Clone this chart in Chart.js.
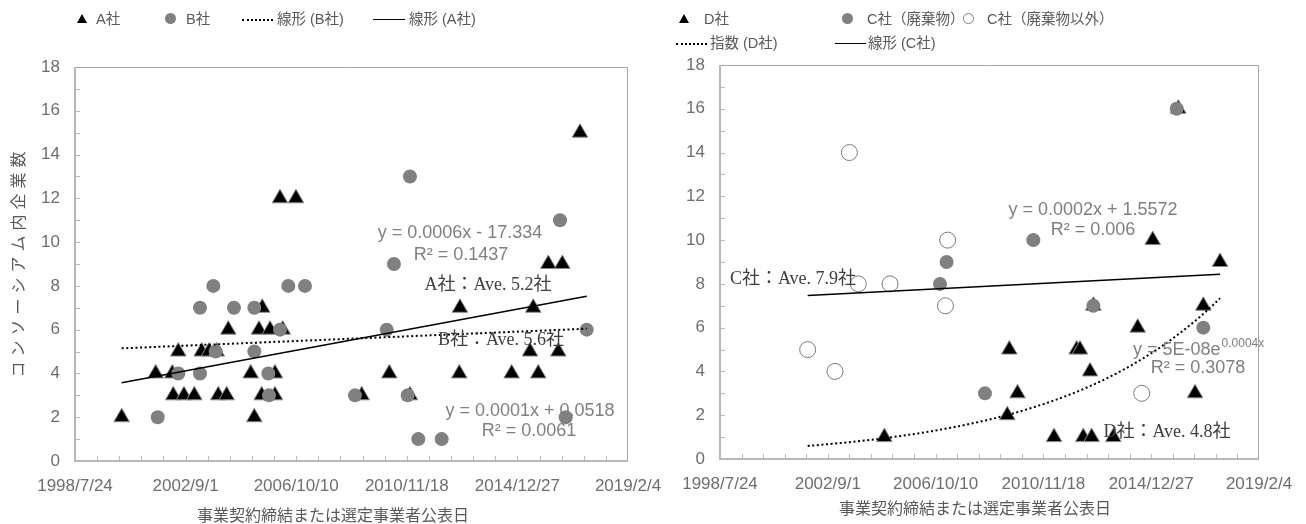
<!DOCTYPE html>
<html>
<head>
<meta charset="utf-8">
<script src="https://cdn.jsdelivr.net/npm/chart.js@4.4.0/dist/chart.umd.min.js"></script>
<style>
  body { margin: 0; width: 1306px; height: 524px; background: #fff; position: relative; overflow: hidden;
         font-family: "Liberation Sans", "Noto Sans CJK JP", sans-serif; }
  canvas { position: absolute; top: 0; }
  .lg { position: absolute; font-size: 14.5px; color: #595959; white-space: nowrap; line-height: 18px; }
  .tri { position: absolute; width: 0; height: 0; border-left: 5px solid transparent; border-right: 5px solid transparent; border-bottom: 9px solid #000; }
  .dot { position: absolute; width: 11px; height: 11px; border-radius: 50%; background: #808080; }
  .ring { position: absolute; width: 9px; height: 9px; border-radius: 50%; border: 1px solid #808080; background: #fff; }
  .ln { position: absolute; height: 0; border-top: 1.5px solid #000; }
  .dl { position: absolute; height: 0; border-top: 2px dotted #000; }
</style>
</head>
<body>
<canvas id="chartA" width="670" height="524" style="left:0"></canvas>
<canvas id="chartC" width="636" height="524" style="left:670px"></canvas>

<!-- 凡例 左 -->
<div class="tri" style="left:77px;top:14px"></div><div class="lg" style="left:96px;top:10px">A社</div>
<div class="dot" style="left:165px;top:13px"></div><div class="lg" style="left:186px;top:10px">B社</div>
<div class="dl" style="left:242px;top:19px;width:31px"></div><div class="lg" style="left:277px;top:10px">線形 (B社)</div>
<div class="ln" style="left:373px;top:19px;width:32px"></div><div class="lg" style="left:409px;top:10px">線形 (A社)</div>
<!-- 凡例 右 -->
<div class="tri" style="left:679px;top:14px"></div><div class="lg" style="left:704px;top:10px">D社</div>
<div class="dot" style="left:842px;top:13px"></div><div class="lg" style="left:867px;top:10px">C社（廃棄物）</div>
<div class="ring" style="left:963px;top:13px"></div><div class="lg" style="left:987px;top:10px">C社（廃棄物以外）</div>
<div class="dl" style="left:676px;top:43px;width:31px"></div><div class="lg" style="left:710px;top:34px">指数 (D社)</div>
<div class="ln" style="left:835px;top:43px;width:31px"></div><div class="lg" style="left:868px;top:34px">線形 (C社)</div>

<script>
// 日付はExcelのシリアル値（1900年基準）
const xTickVals = [36000, 37500, 39000, 40500, 42000, 43500];

// 左グラフ A社 / B社
const aDates = [36633, 37094, 37320, 37333, 37401, 37478, 37618, 37718, 37817, 37922, 37943, 38057, 38079, 38383, 38432, 38495, 38540, 38532, 38645, 38712, 38712, 38817, 38780, 38997, 39888, 40263, 40543, 41212, 41221, 41922, 42171, 42215, 42283, 42419, 42555, 42609, 42849];
const aCount = [2, 4, 4, 3, 5, 3, 3, 5, 5, 5, 3, 3, 6, 4, 2, 6, 7, 3, 6, 4, 3, 6, 12, 12, 3, 4, 3, 4, 7, 4, 5, 7, 4, 9, 5, 9, 15];
const bDates = [37122, 37401, 37695, 37695, 37876, 37908, 38156, 38432, 38432, 38622, 38631, 38780, 38893, 39119, 39797, 40227, 40326, 40512, 40543, 40656, 40973, 42578, 42655, 42940];
const bCount = [2, 4, 7, 4, 8, 5, 7, 7, 5, 4, 3, 6, 8, 8, 3, 6, 9, 3, 13, 1, 1, 11, 2, 6];

// 右グラフ D社 / C社
const dDates = [38287, 39998, 40026, 40140, 40648, 40963, 41009, 41055, 41149, 41172, 41195, 41473, 41812, 42021, 42377, 42610, 42725, 42958];
const dCount = [1, 2, 5, 3, 1, 5, 5, 1, 4, 1, 7, 1, 6, 10, 16, 3, 7, 9];
const cWasteDates = [39061, 39153, 39687, 40360, 41195, 42355, 42725];
const cWasteCount = [8, 9, 3, 10, 7, 16, 6];
const cOtherDates = [37220, 37600, 37800, 37924, 38366, 39137, 39168, 41868];
const cOtherCount = [5, 4, 14, 8, 8, 7, 10, 3];

Chart.defaults.font.family = '"Liberation Sans", "Noto Sans CJK JP", sans-serif';
Chart.defaults.animation = false;

function serialToLabel(s) {
  const d = new Date(Date.UTC(1899, 11, 30) + s * 86400000);
  return d.getUTCFullYear() + '/' + (d.getUTCMonth() + 1) + '/' + d.getUTCDate();
}
const pts = (xs, ys) => xs.map((x, i) => ({ x: x, y: ys[i] }));

function linFit(xs, ys) {
  const n = xs.length;
  const mx = xs.reduce((s, v) => s + v, 0) / n;
  const my = ys.reduce((s, v) => s + v, 0) / n;
  let sxy = 0, sxx = 0;
  xs.forEach((x, i) => { sxy += (x - mx) * (ys[i] - my); sxx += (x - mx) * (x - mx); });
  const b = sxy / sxx;
  return { a: my - b * mx, b: b };
}

function linTrend(xs, ys, x0, x1) {
  const f = linFit(xs, ys);
  return [{ x: x0, y: f.a + f.b * x0 }, { x: x1, y: f.a + f.b * x1 }];
}

function expTrend(xs, ys, x0, x1) {
  const f = linFit(xs, ys.map(v => Math.log(v)));
  const out = [];
  for (let i = 0; i <= 60; i++) {
    const x = x0 + (x1 - x0) * i / 60;
    out.push({ x: x, y: Math.exp(f.a + f.b * x) });
  }
  return out;
}

// 枠と内向きの目盛り
const framePlugin = {
  id: 'frame',
  beforeDatasetsDraw(chart) {
    const { ctx, chartArea: a, scales: { x, y } } = chart;
    ctx.save();
    ctx.strokeStyle = '#a6a6a6';
    ctx.lineWidth = 1;
    ctx.beginPath();
    ctx.moveTo(a.left, a.top + 0.5);
    ctx.lineTo(a.right - 0.5, a.top + 0.5);
    ctx.lineTo(a.right - 0.5, a.bottom);
    ctx.stroke();
    ctx.strokeStyle = '#b8b8b8';
    ctx.lineWidth = 2;
    ctx.beginPath();
    ctx.moveTo(a.left, a.top);
    ctx.lineTo(a.left, a.bottom);
    ctx.lineTo(a.right, a.bottom);
    ctx.stroke();
    ctx.lineWidth = 1;
    ctx.beginPath();
    for (let v = 1; v < 18; v++) {
      const py = Math.round(y.getPixelForValue(v)) + 0.5;
      ctx.moveTo(a.left, py); ctx.lineTo(a.left + 5, py);
    }
    for (let d = 36300; d < 43500; d += 300) {
      const px = Math.round(x.getPixelForValue(d)) + 0.5;
      ctx.moveTo(px, a.bottom); ctx.lineTo(px, a.bottom - 5);
    }
    ctx.stroke();
    ctx.restore();
  }
};

// 近似式・平均のテキストと軸タイトル
function notesPlugin(items) {
  return {
    id: 'notes',
    afterDatasetsDraw(chart) {
      const ctx = chart.ctx;
      items.forEach(it => {
        ctx.save();
        ctx.font = it.font;
        ctx.fillStyle = it.color;
        ctx.textBaseline = 'middle';
        ctx.textAlign = it.align || 'center';
        if (it.spacing) ctx.letterSpacing = it.spacing;
        ctx.translate(it.x, it.y);
        if (it.rot) ctx.rotate(it.rot);
        ctx.fillText(it.text, 0, 0);
        if (it.sup) {
          const w = ctx.measureText(it.text).width;
          ctx.font = it.supFont;
          ctx.textAlign = 'left';
          ctx.fillText(it.sup, w + 1, -6);
        }
        ctx.restore();
      });
    }
  };
}

const grayFont = '18px "Liberation Sans", "Noto Sans CJK JP", sans-serif';
const serifFont = '18px "Liberation Serif", "Noto Sans CJK JP", serif';
const titleFont = '16px "Noto Sans CJK JP", sans-serif';
const tickColor = '#6e6e6e';

function makeOptions(yWidth, padRight, xHeight, padTop) {
  return {
    responsive: false,
    layout: { padding: { top: padTop, right: padRight, left: 0, bottom: 0 } },
    plugins: { legend: { display: false }, tooltip: { enabled: false } },
    scales: {
      x: {
        type: 'linear', min: 36000, max: 43500,
        grid: { display: false, drawTicks: false }, border: { display: false },
        afterBuildTicks: s => { s.ticks = xTickVals.map(v => ({ value: v })); },
        ticks: { autoSkip: false, maxRotation: 0, padding: 15, color: tickColor, font: { size: 17 },
                 callback: v => serialToLabel(v) },
        afterFit: s => { s.height = xHeight; s.paddingLeft = 0; s.paddingRight = 0; }
      },
      y: {
        min: 0, max: 18,
        grid: { display: false, drawTicks: false }, border: { display: false },
        ticks: { stepSize: 2, padding: 15, color: tickColor, font: { size: 17 } },
        afterFit: s => { s.width = yWidth; s.paddingTop = 0; s.paddingBottom = 0; }
      }
    }
  };
}

const triStyle = { pointStyle: 'triangle', pointRadius: 9, backgroundColor: '#000', borderColor: '#8c8c8c', borderWidth: 1, showLine: false };

// 左グラフ
const leftMin = Math.min(...aDates, ...bDates), leftMax = Math.max(...aDates, ...bDates);
new Chart(document.getElementById('chartA'), {
  type: 'scatter',
  data: {
    datasets: [
      { label: '線形 (A社)', data: linTrend(aDates, aCount, leftMin, leftMax), showLine: true, pointRadius: 0,
        borderColor: '#000', borderWidth: 1.5, order: 0 },
      { label: '線形 (B社)', data: linTrend(bDates, bCount, leftMin, leftMax), showLine: true, pointRadius: 0,
        borderColor: '#000', borderWidth: 2, borderDash: [2, 2.6], order: 0 },
      { label: 'B社', data: pts(bDates, bCount), pointStyle: 'circle', pointRadius: 7,
        backgroundColor: '#808080', borderColor: '#808080', borderWidth: 0, order: 1 },
      Object.assign({ label: 'A社', data: pts(aDates, aCount), order: 2 }, triStyle)
    ]
  },
  options: makeOptions(75, 42, 63, 67),
  plugins: [framePlugin, notesPlugin([
    { text: 'y = 0.0006x - 17.334', x: 460, y: 233, font: grayFont, color: '#808080' },
    { text: 'R² = 0.1437', x: 461, y: 255, font: grayFont, color: '#808080' },
    { text: 'A社：Ave. 5.2社', x: 488, y: 285, font: serifFont, color: '#404040' },
    { text: 'B社：Ave. 5.6社', x: 501, y: 340, font: serifFont, color: '#404040' },
    { text: 'y = 0.0001x + 0.0518', x: 530, y: 411, font: grayFont, color: '#808080' },
    { text: 'R² = 0.0061', x: 529, y: 431, font: grayFont, color: '#808080' },
    { text: '事業契約締結または選定事業者公表日', x: 333, y: 515, font: titleFont, color: '#595959' },
    { text: 'コンソーシアム内企業数', x: 18, y: 262, font: titleFont, color: '#595959', rot: -Math.PI / 2, spacing: '5px' }
  ])]
});

// 右グラフ
const cDates = cWasteDates.concat(cOtherDates);
const cCount = cWasteCount.concat(cOtherCount);
const rightMin = Math.min(...dDates, ...cDates), rightMax = Math.max(...dDates, ...cDates);
new Chart(document.getElementById('chartC'), {
  type: 'scatter',
  data: {
    datasets: [
      { label: '線形 (C社)', data: linTrend(cDates, cCount, rightMin, rightMax), showLine: true, pointRadius: 0,
        borderColor: '#000', borderWidth: 1.5, order: 0 },
      { label: '指数 (D社)', data: expTrend(dDates, dCount, rightMin, rightMax), showLine: true, pointRadius: 0,
        borderColor: '#000', borderWidth: 2, borderDash: [2, 2.6], order: 0 },
      { label: 'C社（廃棄物以外）', data: pts(cOtherDates, cOtherCount), pointStyle: 'circle', pointRadius: 8,
        backgroundColor: '#fff', borderColor: '#7a7a7a', borderWidth: 1, order: 1 },
      { label: 'C社（廃棄物）', data: pts(cWasteDates, cWasteCount), pointStyle: 'circle', pointRadius: 7,
        backgroundColor: '#808080', borderColor: '#808080', borderWidth: 0, order: 2 },
      Object.assign({ label: 'D社', data: pts(dDates, dCount), order: 3 }, triStyle)
    ]
  },
  options: makeOptions(50, 47, 65, 65),
  plugins: [framePlugin, notesPlugin([
    { text: 'y = 0.0002x + 1.5572', x: 423, y: 210, font: grayFont, color: '#808080' },
    { text: 'R² = 0.006', x: 423, y: 230, font: grayFont, color: '#808080' },
    { text: 'C社：Ave. 7.9社', x: 123, y: 279, font: serifFont, color: '#404040' },
    { text: 'y = 5E-08e', x: 463, y: 350, font: grayFont, color: '#808080', align: 'left',
      sup: '0.0004x', supFont: '12px "Liberation Sans", sans-serif' },
    { text: 'R² = 0.3078', x: 528, y: 368, font: grayFont, color: '#808080' },
    { text: 'D社：Ave. 4.8社', x: 497, y: 432, font: serifFont, color: '#404040' },
    { text: '事業契約締結または選定事業者公表日', x: 305, y: 508, font: titleFont, color: '#595959' }
  ])]
});
</script>
</body>
</html>
